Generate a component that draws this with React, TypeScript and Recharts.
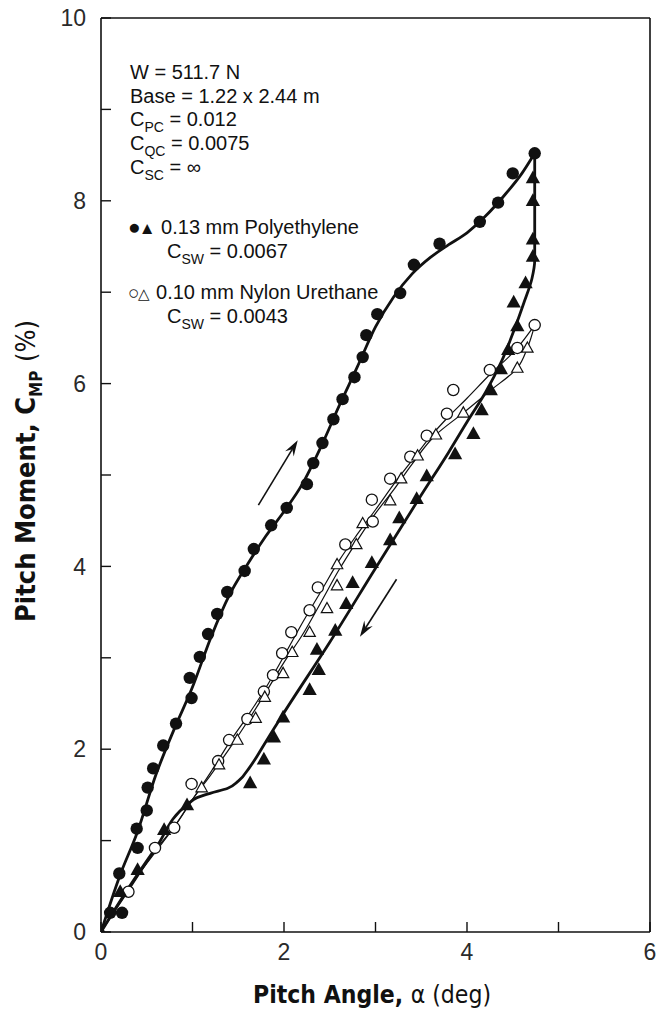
import React from 'react';
import { ComposedChart, Line, Scatter, XAxis, YAxis, ReferenceLine } from 'recharts';

type P = { x: number; y: number };
const toPts = (a: number[][]): P[] => a.map(([x, y]) => ({ x, y }));

// tick values
const xTicks = [0, 1, 2, 3, 4, 5, 6];
const yTicks = [0, 1, 2, 3, 4, 5, 6, 7, 8, 9, 10];

// 0.13 mm Polyethylene, loading (filled circles)
const polyLoadPts = [
  [0.10, 0.21], [0.23, 0.21], [0.20, 0.64], [0.40, 0.92], [0.39, 1.13], [0.50, 1.33], [0.51, 1.58],
  [0.57, 1.79], [0.68, 2.04], [0.82, 2.28], [0.99, 2.56], [0.97, 2.78], [1.08, 3.01], [1.17, 3.26],
  [1.27, 3.48], [1.38, 3.72], [1.57, 3.95], [1.67, 4.19], [1.86, 4.45], [2.03, 4.64], [2.25, 4.90],
  [2.32, 5.13], [2.42, 5.35], [2.54, 5.61], [2.64, 5.83], [2.77, 6.07], [2.86, 6.29], [2.90, 6.53],
  [3.02, 6.76], [3.27, 6.99], [3.42, 7.30], [3.70, 7.53], [4.14, 7.77], [4.34, 7.98], [4.50, 8.30],
  [4.74, 8.52],
];
// 0.13 mm Polyethylene, unloading (filled triangles)
const polyUnloadPts = [
  [4.72, 8.25], [4.72, 8.00], [4.72, 7.58], [4.72, 7.39], [4.64, 7.10], [4.51, 6.89], [4.55, 6.63],
  [4.45, 6.37], [4.37, 6.16], [4.26, 5.93], [4.16, 5.71], [4.07, 5.45], [3.87, 5.23], [3.56, 4.99],
  [3.45, 4.74], [3.26, 4.53], [3.16, 4.29], [2.96, 4.04], [2.75, 3.82], [2.68, 3.59], [2.56, 3.30],
  [2.36, 3.09], [2.38, 2.87], [2.28, 2.65], [1.99, 2.35], [1.89, 2.13], [1.78, 1.89], [1.63, 1.63],
  [0.94, 1.39], [0.69, 1.12], [0.40, 0.68], [0.21, 0.44], [0, 0],
];
// 0.10 mm Nylon Urethane, loading (open circles)
const nylonLoadPts = [
  [0.30, 0.44], [0.59, 0.92], [0.80, 1.14], [0.99, 1.62], [1.28, 1.87], [1.40, 2.10], [1.60, 2.33],
  [1.78, 2.63], [1.88, 2.81], [1.98, 3.05], [2.08, 3.28], [2.28, 3.52], [2.37, 3.77], [2.67, 4.24],
  [2.97, 4.49], [2.96, 4.73], [3.16, 4.96], [3.38, 5.20], [3.56, 5.43], [3.78, 5.67], [3.85, 5.93],
  [4.25, 6.15], [4.55, 6.39], [4.74, 6.64],
];
// 0.10 mm Nylon Urethane, unloading (open triangles)
const nylonUnloadPts = [
  [4.66, 6.39], [4.55, 6.17], [3.96, 5.68], [3.66, 5.44], [3.46, 5.21], [3.28, 4.96], [3.16, 4.72],
  [2.86, 4.47], [2.79, 4.24], [2.58, 4.02], [2.58, 3.79], [2.47, 3.54], [2.28, 3.28], [2.09, 3.06],
  [1.99, 2.83], [1.79, 2.57], [1.69, 2.34], [1.49, 2.10], [1.29, 1.83], [1.10, 1.58],
];

// fitted curves
const polyLoadCurve = [
  [0, 0], [0.2, 0.6], [0.4, 1.1], [0.6, 1.72], [0.8, 2.22], [1.0, 2.68], [1.2, 3.22], [1.4, 3.68],
  [1.6, 4.02], [1.8, 4.33], [2.0, 4.6], [2.2, 4.9], [2.4, 5.3], [2.6, 5.75], [2.8, 6.18], [3.0, 6.62],
  [3.2, 6.95], [3.4, 7.2], [3.6, 7.38], [3.8, 7.52], [4.0, 7.65], [4.2, 7.83], [4.4, 8.05], [4.6, 8.3],
  [4.74, 8.52],
];
const polyUnloadCurve = [
  [4.74, 8.52], [4.74, 7.9], [4.74, 7.35], [4.71, 7.15], [4.62, 6.88], [4.52, 6.6], [4.38, 6.25],
  [4.2, 5.9], [4.0, 5.58], [3.8, 5.25], [3.5, 4.78], [3.0, 3.98], [2.5, 3.17], [2.0, 2.4], [1.8, 2.08],
  [1.63, 1.81], [1.5, 1.65], [1.38, 1.57], [1.2, 1.52], [1.05, 1.47], [0.95, 1.40], [0.6, 0.92],
  [0.3, 0.48], [0, 0],
];
const nylonLoadCurve = [
  [0, 0], [0.3, 0.45], [0.6, 0.9], [0.85, 1.22], [1.0, 1.45], [1.2, 1.75], [1.4, 2.07], [1.6, 2.36],
  [1.8, 2.67], [2.0, 3.02], [2.2, 3.38], [2.4, 3.72], [2.6, 4.06], [2.8, 4.35], [3.0, 4.62], [3.2, 4.9],
  [3.4, 5.16], [3.6, 5.42], [3.8, 5.64], [4.0, 5.84], [4.25, 6.1], [4.55, 6.39], [4.74, 6.64],
];
const nylonUnloadCurve = [
  [4.74, 6.64], [4.66, 6.39], [4.55, 6.17], [4.25, 5.92], [3.96, 5.68], [3.66, 5.44], [3.4, 5.12],
  [3.2, 4.84], [3.0, 4.58], [2.8, 4.28], [2.6, 3.96], [2.4, 3.6], [2.2, 3.25], [2.0, 2.95], [1.8, 2.62],
  [1.6, 2.3], [1.4, 2.0], [1.2, 1.72], [1.0, 1.45], [0.8, 1.15], [0.5, 0.75], [0.25, 0.4], [0, 0],
];

// direction arrows (tail, head)
const upArrow = [[1.72, 4.67], [2.15, 5.38]];
const downArrow = [[3.23, 3.86], [2.83, 3.23]];

const INK = '#111';

const FilledCircle = (p: any) => <circle cx={p.cx} cy={p.cy} r={6.2} fill={INK} />;
const OpenCircle = (p: any) => (
  <circle cx={p.cx} cy={p.cy} r={5.6} fill="#fff" stroke={INK} strokeWidth={1.3} />
);
const triPts = (cx: number, cy: number, s: number) =>
  `${cx},${cy - s} ${cx + s * 0.95},${cy + s * 0.7} ${cx - s * 0.95},${cy + s * 0.7}`;
const FilledTri = (p: any) => <polygon points={triPts(p.cx, p.cy, 7.5)} fill={INK} />;
const OpenTri = (p: any) => (
  <polygon points={triPts(p.cx, p.cy, 6)} fill="#fff" stroke={INK} strokeWidth={1.2} />
);

const arrowShape = (p: any) => {
  const { x1, y1, x2, y2 } = p;
  const ang = Math.atan2(y2 - y1, x2 - x1);
  const L = 16;
  const W = 5;
  const bx = x2 - L * Math.cos(ang);
  const by = y2 - L * Math.sin(ang);
  const nx = bx + 0.35 * L * Math.cos(ang);
  const ny = by + 0.35 * L * Math.sin(ang);
  const px = -Math.sin(ang) * W;
  const py = Math.cos(ang) * W;
  return (
    <g>
      <line x1={x1} y1={y1} x2={nx} y2={ny} stroke={INK} strokeWidth={1.6} />
      <polygon points={`${x2},${y2} ${bx + px},${by + py} ${nx},${ny} ${bx - px},${by - py}`} fill={INK} />
    </g>
  );
};

const tickFont = { fontFamily: 'Liberation Sans, Arial, sans-serif', fontSize: 23, fill: '#2a2a2a' };
const evenOnly = (v: number) => (v % 2 === 0 ? String(v) : '');

const textFont = "'Liberation Sans', Arial, sans-serif";
const labelFont = "'Liberation Sans Narrow', 'DejaVu Sans Condensed', 'Liberation Sans', Arial, sans-serif";

const Sub = ({ children }: { children: React.ReactNode }) => (
  <span style={{ fontSize: 14, position: 'relative', top: 6 }}>{children}</span>
);

const Note = ({ x, y, children }: { x: number; y: number; children: React.ReactNode }) => (
  <div
    style={{
      position: 'absolute',
      left: x,
      top: y,
      transform: 'translateY(-50%)',
      whiteSpace: 'nowrap',
      fontFamily: textFont,
      fontSize: 20,
      color: INK,
      lineHeight: 1,
    }}
  >
    {children}
  </div>
);

export default function App() {
  return (
    <div style={{ position: 'absolute', left: 0, top: 0, width: 659, height: 1013, background: '#fff' }}>
      <ComposedChart width={659} height={1013} margin={{ top: 17, right: 8, bottom: 51, left: 41 }}>
        <XAxis
          dataKey="x"
          type="number"
          domain={[0, 6]}
          ticks={xTicks}
          allowDataOverflow
          tickFormatter={evenOnly}
          tickSize={-10}
          tickMargin={22}
          height={30}
          axisLine={{ stroke: INK, strokeWidth: 1.6 }}
          tickLine={{ stroke: INK, strokeWidth: 1.4 }}
          tick={tickFont}
        />
        <XAxis
          xAxisId="top"
          orientation="top"
          type="number"
          domain={[0, 6]}
          ticks={xTicks}
          allowDataOverflow
          tickSize={-10}
          height={1}
          tick={false}
          axisLine={{ stroke: INK, strokeWidth: 1.6 }}
          tickLine={{ stroke: INK, strokeWidth: 1.4 }}
        />
        <YAxis
          dataKey="y"
          type="number"
          domain={[0, 10]}
          ticks={yTicks}
          allowDataOverflow
          tickFormatter={evenOnly}
          tickSize={-10}
          tickMargin={25}
          width={60}
          axisLine={{ stroke: INK, strokeWidth: 1.6 }}
          tickLine={{ stroke: INK, strokeWidth: 1.4 }}
          tick={tickFont}
        />
        <YAxis
          yAxisId="right"
          orientation="right"
          type="number"
          domain={[0, 10]}
          ticks={yTicks}
          allowDataOverflow
          tickSize={-10}
          width={1}
          tick={false}
          axisLine={{ stroke: INK, strokeWidth: 1.6 }}
          tickLine={{ stroke: INK, strokeWidth: 1.4 }}
        />

        <Line data={toPts(nylonLoadCurve)} dataKey="y" type="monotone" stroke={INK} strokeWidth={1.2} dot={false} isAnimationActive={false} />
        <Line data={toPts(nylonUnloadCurve)} dataKey="y" type="monotoneY" stroke={INK} strokeWidth={1.2} dot={false} isAnimationActive={false} />
        <Line data={toPts(polyLoadCurve)} dataKey="y" type="monotone" stroke={INK} strokeWidth={2.8} dot={false} isAnimationActive={false} />
        <Line data={toPts(polyUnloadCurve)} dataKey="y" type="monotoneY" stroke={INK} strokeWidth={2.8} dot={false} isAnimationActive={false} />

        <Scatter data={toPts(nylonLoadPts)} dataKey="y" shape={OpenCircle} isAnimationActive={false} />
        <Scatter data={toPts(nylonUnloadPts)} dataKey="y" shape={OpenTri} isAnimationActive={false} />
        <Scatter data={toPts(polyLoadPts)} dataKey="y" shape={FilledCircle} isAnimationActive={false} />
        <Scatter data={toPts(polyUnloadPts)} dataKey="y" shape={FilledTri} isAnimationActive={false} />

        <ReferenceLine
          segment={[{ x: upArrow[0][0], y: upArrow[0][1] }, { x: upArrow[1][0], y: upArrow[1][1] }]}
          shape={arrowShape}
          stroke={INK}
        />
        <ReferenceLine
          segment={[{ x: downArrow[0][0], y: downArrow[0][1] }, { x: downArrow[1][0], y: downArrow[1][1] }]}
          shape={arrowShape}
          stroke={INK}
        />
      </ComposedChart>

      <Note x={130} y={72}>W = 511.7 N</Note>
      <Note x={130} y={96}>Base = 1.22 x 2.44 m</Note>
      <Note x={130} y={119}>C<Sub>PC</Sub> = 0.012</Note>
      <Note x={130} y={143}>C<Sub>QC</Sub> = 0.0075</Note>
      <Note x={130} y={167}>C<Sub>SC</Sub> = ∞</Note>
      <Note x={128} y={226}><span style={{ fontSize: 21, letterSpacing: -2 }}>●</span><span style={{ fontSize: 17 }}>▲</span> 0.13 mm Polyethylene</Note>
      <Note x={167} y={251}>C<Sub>SW</Sub> = 0.0067</Note>
      <Note x={128} y={292}><span style={{ fontSize: 19, letterSpacing: -1 }}>○</span><span style={{ fontSize: 15 }}>△</span> 0.10 mm Nylon Urethane</Note>
      <Note x={167} y={316}>C<Sub>SW</Sub> = 0.0043</Note>

      <div
        style={{
          position: 'absolute',
          left: 25,
          top: 471,
          transform: 'translate(-50%, -50%) rotate(-90deg)',
          whiteSpace: 'nowrap',
          fontFamily: labelFont,
          fontWeight: 'bold',
          fontSize: 27,
          color: INK,
          lineHeight: 1,
        }}
      >
        Pitch Moment, C<span style={{ fontSize: 17, position: 'relative', top: 7 }}>MP</span>{' '}
        <span style={{ fontWeight: 'normal' }}>(%)</span>
      </div>
      <div
        style={{
          position: 'absolute',
          left: 372,
          top: 995,
          transform: 'translate(-50%, -50%)',
          whiteSpace: 'nowrap',
          fontFamily: labelFont,
          fontWeight: 'bold',
          fontSize: 24.5,
          color: INK,
          lineHeight: 1,
        }}
      >
        Pitch Angle, <span style={{ fontWeight: 'normal' }}>α (deg)</span>
      </div>
    </div>
  );
}
